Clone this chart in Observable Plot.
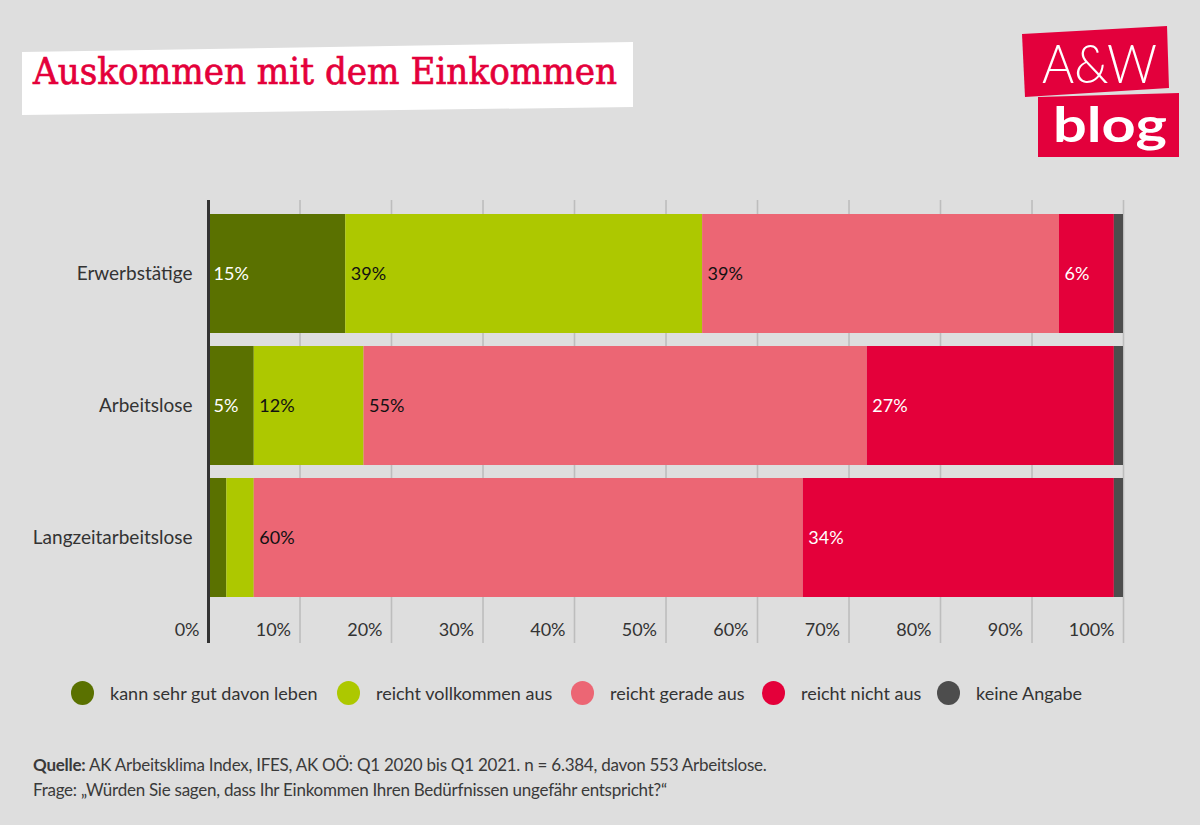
<!DOCTYPE html>
<html>
<head>
<meta charset="utf-8">
<script src="https://cdn.jsdelivr.net/npm/d3@7"></script>
<script src="https://cdn.jsdelivr.net/npm/@observablehq/plot@0.6"></script>
<style>
  html, body { margin: 0; padding: 0; background: #dedede; }
  #page { position: relative; width: 1200px; height: 825px; overflow: hidden; background: #dedede; font-family: Lato, "Noto Sans", sans-serif; }
  #chart { position: absolute; left: 0; top: 0; }
  #deco { position: absolute; left: 0; top: 0; }
  .leg { position: absolute; top: 681px; height: 24px; display: flex; align-items: center; font-size: 18px; color: #333; white-space: nowrap; }
  .leg .dot { width: 23px; height: 24px; border-radius: 50%; margin-right: 16px; flex: none; }
  #foot { position: absolute; left: 33px; top: 752px; font-size: 17px; color: #3a3a3a; line-height: 25px; letter-spacing: -0.25px; }
</style>
</head>
<body>
<div id="page">
  <div id="chart"></div>
  <svg id="deco" width="1200" height="200" xmlns="http://www.w3.org/2000/svg"></svg>
  <div id="legend"></div>
  <div id="foot"></div>
</div>
<script>
// ---- data ----
const categories = ["Erwerbstätige", "Arbeitslose", "Langzeitarbeitslose"];
const seriesNames = ["kann sehr gut davon leben", "reicht vollkommen aus", "reicht gerade aus", "reicht nicht aus", "keine Angabe"];
const seriesColors = ["#5a7100", "#adc800", "#ec6674", "#e4003a", "#4d4d4d"];
const sehrGut = [15, 5, 2];
const vollkommen = [39, 12, 3];
const geradeAus = [39, 55, 60];
const nichtAus = [6, 27, 34];
const keineAngabe = [1, 1, 1];
const tickValues = [0, 10, 20, 30, 40, 50, 60, 70, 80, 90, 100];
const whiteLabelSeries = ["kann sehr gut davon leben", "reicht nicht aus"];

const seriesValues = [sehrGut, vollkommen, geradeAus, nichtAus, keineAngabe];
const data = [];
categories.forEach((cat, i) => {
  seriesNames.forEach((s, j) => {
    data.push({cat, series: s, value: seriesValues[j][i]});
  });
});

const lbl = (white) => d => (d.value >= 5 && whiteLabelSeries.includes(d.series) === white) ? d.value + "%" : "";

const chart = Plot.plot({
  width: 1200,
  height: 700,
  marginTop: 200,
  marginBottom: 57,
  marginLeft: 208,
  marginRight: 77,
  style: {background: "transparent", fontFamily: "Lato, 'Noto Sans', sans-serif"},
  x: {domain: [0, 100]},
  y: {domain: categories, range: [200, 611.3], paddingInner: 0.1, paddingOuter: 0.1},
  color: {domain: seriesNames, range: seriesColors},
  marks: [
    Plot.ruleX(tickValues, {stroke: "#bdbdbd", strokeWidth: 1.6}),
    Plot.barX(data, Plot.stackX({x: "value", y: "cat", z: "series", fill: "series", order: seriesNames})),
    Plot.text(data, Plot.stackX1({x: "value", y: "cat", z: "series", order: seriesNames, text: lbl(true), fill: "white", textAnchor: "start", dx: 5, fontSize: 18})),
    Plot.text(data, Plot.stackX1({x: "value", y: "cat", z: "series", order: seriesNames, text: lbl(false), fill: "#111", textAnchor: "start", dx: 5, fontSize: 18})),
    Plot.ruleX([0], {stroke: "#333", strokeWidth: 3}),
    Plot.axisY({tickSize: 0, tickPadding: 16, fontSize: 19, color: "#333", label: null}),
    Plot.axisX(tickValues, {anchor: "bottom", tickSize: 0, tickPadding: 0, dy: -20, dx: -9, textAnchor: "end", tickFormat: d => d + "%", fontSize: 18, color: "#333", label: null})
  ]
});
document.getElementById("chart").appendChild(chart);

// ---- title & logo ----
const NS = "http://www.w3.org/2000/svg";
const deco = document.getElementById("deco");
function el(tag, attrs, text) {
  const e = document.createElementNS(NS, tag);
  for (const k in attrs) e.setAttribute(k, attrs[k]);
  if (text != null) e.textContent = text;
  deco.appendChild(e);
  return e;
}
el("polygon", {points: "22,52 633,42 633,107 22,115", fill: "#ffffff"});
el("text", {x: 33, y: 84, fill: "#e4003a", stroke: "#e4003a", "stroke-width": 0.7, "font-family": "'DejaVu Serif', 'Liberation Serif', serif", "font-size": 38, textLength: 584, lengthAdjust: "spacingAndGlyphs"}, "Auskommen mit dem Einkommen");
el("polygon", {points: "1022,34 1167,26 1169,88 1025,97", fill: "#e3003c"});
el("polygon", {points: "1038,97 1179,93 1179,157 1038,157", fill: "#e3003c"});
el("text", {x: 1042, y: 83, fill: "#ffffff", "font-family": "Lato, sans-serif", "font-weight": 300, "font-size": 54, textLength: 115, lengthAdjust: "spacingAndGlyphs"}, "A&W");
el("text", {x: 1053, y: 142, fill: "#ffffff", "font-family": "Lato, sans-serif", "font-weight": 700, "font-size": 48, textLength: 114, lengthAdjust: "spacingAndGlyphs"}, "blog");

// ---- legend ----
const legendX = [71, 337, 571, 762, 937];
const legend = document.getElementById("legend");
seriesNames.forEach((s, i) => {
  const item = document.createElement("div");
  item.className = "leg";
  item.style.left = legendX[i] + "px";
  const dot = document.createElement("span");
  dot.className = "dot";
  dot.style.background = seriesColors[i];
  item.appendChild(dot);
  const t = document.createElement("span");
  t.textContent = s;
  item.appendChild(t);
  legend.appendChild(item);
});

// ---- footer ----
const sourceLabel = "Quelle:";
const sourceText = " AK Arbeitsklima Index, IFES, AK OÖ: Q1 2020 bis Q1 2021. n = 6.384, davon 553 Arbeitslose.";
const questionText = "Frage: „Würden Sie sagen, dass Ihr Einkommen Ihren Bedürfnissen ungefähr entspricht?“";
const foot = document.getElementById("foot");
const l1 = document.createElement("div");
const b = document.createElement("b"); b.textContent = sourceLabel;
l1.appendChild(b); l1.appendChild(document.createTextNode(sourceText));
const l2 = document.createElement("div"); l2.textContent = questionText;
foot.appendChild(l1); foot.appendChild(l2);
</script>
</body>
</html>
